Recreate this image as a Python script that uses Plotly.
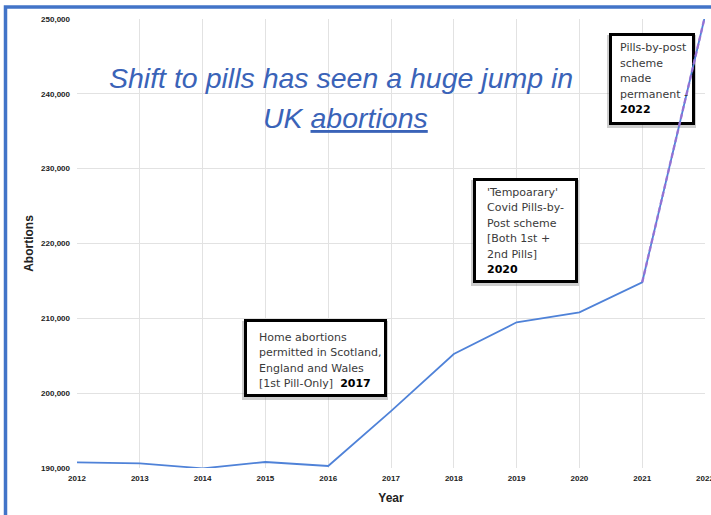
import plotly.graph_objects as go

# ---- data ----
years = [2012, 2013, 2014, 2015, 2016, 2017, 2018, 2019, 2020, 2021, 2022]
abortions = [190760, 190630, 189950, 190800, 190270, 197600, 205230, 209470, 210800, 214820, 250400]
x_ticks = list(range(2012, 2023))
y_ticks = [190000, 200000, 210000, 220000, 230000, 240000, 250000]

title_line1 = "Shift to pills has seen a huge jump in"
title_line2 = "UK <u>abortions</u>"

box1_lines = ["Home abortions", "permitted in Scotland,", "England and Wales",
              "[1st Pill-Only]  <b style='color:#000'>2017</b>"]
box2_lines = ["'Tempoarary'", "Covid Pills-by-", "Post scheme", "[Both 1st +",
              "2nd Pills]", "<b style='color:#000'>2020</b>"]
box3_lines = ["Pills-by-post", "scheme", "made", "permanent -",
              "<b style='color:#000'>2022</b>"]

# ---- layout geometry (pixels) ----
W, H = 711, 515
L, R, T, B = 77, 6, 19, 47
PW, PH = W - L - R, H - T - B
XMIN, XMAX = 2012, 2022
YMIN, YMAX = 190000, 250000


def px_x(px):
    return (px - L) / PW


def px_y(py):
    return (H - B - py) / PH


def dx(px):
    return XMIN + (px - L) / PW * (XMAX - XMIN)


def dy(py):
    return YMIN + (H - B - py) / PH * (YMAX - YMIN)


line_blue = "#4f82d8"
purple = "rgba(160,110,210,0.85)"

fig = go.Figure()
fig.add_trace(go.Scatter(x=years, y=abortions, mode="lines",
                         line=dict(color=line_blue, width=1.8),
                         hoverinfo="skip", showlegend=False))
# dashed purple arrow over the last segment
fig.add_trace(go.Scatter(x=years[-2:], y=abortions[-2:], mode="lines",
                         line=dict(color=purple, width=2.4, dash="5px,3px"),
                         hoverinfo="skip", showlegend=False))

shapes = []
annotations = []

# outer blue frame
shapes.append(dict(type="rect", xref="paper", yref="paper",
                   x0=px_x(5.5), x1=px_x(W + 40), y0=px_y(H + 40), y1=px_y(7),
                   line=dict(color="#4274c8", width=3.5), layer="above"))

# annotation boxes: (left, top, right, bottom, text_left, line centers, lines)
boxes = [
    (244, 319, 387, 397, 258, [337, 352.5, 368, 383.5], box1_lines),
    (473, 178, 578, 283, 486, [192, 207.5, 223, 238.5, 254, 269.5], box2_lines),
    (609, 33, 695, 125, 619, [48, 63.5, 79, 94.5, 110], box3_lines),
]
for (l, t, r, b, tl, centers, lines) in boxes:
    shapes.append(dict(type="rect", xref="x", yref="y",
                       x0=dx(l - 2), x1=dx(r + 1), y0=dy(b + 3), y1=dy(t + 2),
                       line=dict(width=0), fillcolor="rgba(90,90,90,0.3)",
                       layer="between"))
    shapes.append(dict(type="rect", xref="x", yref="y",
                       x0=dx(l + 1.5), x1=dx(r - 1.5), y0=dy(b - 1.5), y1=dy(t + 1.5),
                       line=dict(color="#000000", width=3), fillcolor="white",
                       layer="between"))
    for c, txt in zip(centers, lines):
        annotations.append(dict(xref="paper", yref="paper", x=px_x(tl - 1), y=px_y(c),
                                xanchor="left", yanchor="middle", showarrow=False,
                                text=txt, align="left",
                                font=dict(family="DejaVu Sans", size=11, color="#3a3a3a")))

# arrow head at the top of the last segment
annotations.append(dict(xref="x", yref="y", x=dx(703.5), y=dy(15),
                        axref="pixel", ayref="pixel", ax=-3.5, ay=14,
                        showarrow=True, arrowhead=2, arrowsize=1.1, arrowwidth=2,
                        arrowcolor=purple, text=""))

# title lines
title_font = dict(family="Liberation Sans", size=28.5, color="#3a63b8", style="italic")
annotations.append(dict(xref="paper", yref="paper", x=px_x(341), y=px_y(78),
                        xanchor="center", yanchor="middle", showarrow=False,
                        text=title_line1, font=title_font))
annotations.append(dict(xref="paper", yref="paper", x=px_x(345), y=px_y(118),
                        xanchor="center", yanchor="middle", showarrow=False,
                        text=title_line2, font=title_font))

tick_font = dict(family="Liberation Sans", size=8, color="#222222", weight="bold")
title_axis_font = dict(family="Liberation Sans", size=12, color="#222222", weight="bold")

fig.update_layout(
    width=W, height=H,
    margin=dict(l=L, r=R, t=T, b=B, autoexpand=False),
    paper_bgcolor="white", plot_bgcolor="white",
    shapes=shapes, annotations=annotations,
    xaxis=dict(range=[XMIN, XMAX], tickvals=x_ticks, ticktext=[str(v) for v in x_ticks],
               showgrid=True, gridcolor="#e2e2e2", gridwidth=1, zeroline=False,
               showline=False, tickfont=tick_font, ticklabelstandoff=4,
               ticklabeloverflow="allow",
               title=dict(text="Year", font=title_axis_font, standoff=11),
               automargin=False, fixedrange=True),
    yaxis=dict(range=[YMIN, YMAX], tickvals=y_ticks,
               ticktext=[f"{v:,}" for v in y_ticks],
               showgrid=True, gridcolor="#e2e2e2", gridwidth=1, zeroline=False,
               showline=False, tickfont=tick_font, ticklabelstandoff=6,
               ticklabeloverflow="allow",
               title=dict(text="Abortions", font=title_axis_font, standoff=4),
               automargin=False, fixedrange=True),
)

fig.write_html("out.html", config={"displayModeBar": False},
               post_script="document.body.style.margin='0';document.body.style.overflow='hidden';")
